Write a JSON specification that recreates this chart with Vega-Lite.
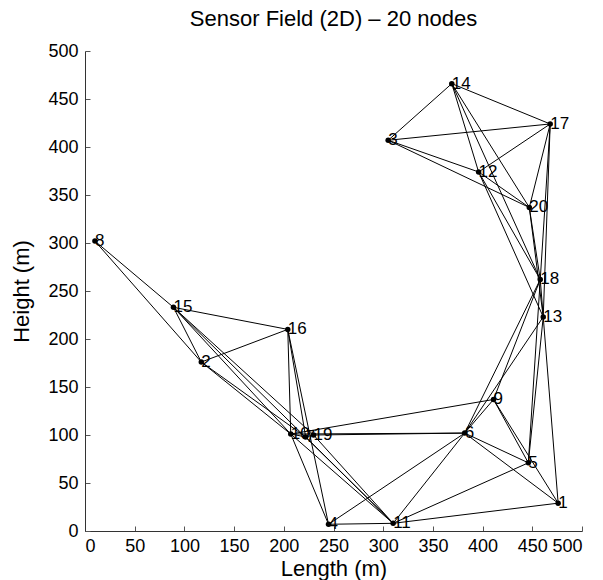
{
  "$schema": "https://vega.github.io/schema/vega-lite/v6.json",
  "width": 497,
  "height": 480,
  "autosize": {"type": "none"},
  "padding": {"left": 85, "top": 51, "right": 21, "bottom": 49},
  "background": "white",
  "config": {
    "view": {"stroke": null},
    "font": "Liberation Sans",
    "axis": {
      "grid": false,
      "domainColor": "#333",
      "tickColor": "#555",
      "tickSize": -5,
      "labelFont": "Liberation Sans",
      "labelFontSize": 18,
      "labelColor": "black",
      "titleFont": "Liberation Sans",
      "titleFontSize": 22,
      "titleFontWeight": "normal",
      "titleColor": "black"
    }
  },
  "title": {
    "text": "Sensor Field (2D) – 20 nodes",
    "fontSize": 22,
    "fontWeight": "normal",
    "font": "Liberation Sans",
    "offset": 11,
    "anchor": "middle"
  },
  "datasets": {
    "nodes": [
      {"id": "1", "x": 476, "y": 29},
      {"id": "2", "x": 117, "y": 176},
      {"id": "3", "x": 305, "y": 407},
      {"id": "4", "x": 245, "y": 7},
      {"id": "5", "x": 446, "y": 71},
      {"id": "6", "x": 382, "y": 102},
      {"id": "7", "x": 222, "y": 98},
      {"id": "8", "x": 10, "y": 302},
      {"id": "9", "x": 411, "y": 137},
      {"id": "10", "x": 207, "y": 101},
      {"id": "11", "x": 310, "y": 8},
      {"id": "12", "x": 396, "y": 374},
      {"id": "13", "x": 461, "y": 223},
      {"id": "14", "x": 369, "y": 466},
      {"id": "15", "x": 89, "y": 233},
      {"id": "16", "x": 204, "y": 210},
      {"id": "17", "x": 468, "y": 424},
      {"id": "18", "x": 458, "y": 262},
      {"id": "19", "x": 230, "y": 100},
      {"id": "20", "x": 447, "y": 337}
    ],
    "edges": [
      {"a": "8", "b": "15", "x1": 10, "y1": 302, "x2": 89, "y2": 233},
      {"a": "8", "b": "2", "x1": 10, "y1": 302, "x2": 117, "y2": 176},
      {"a": "15", "b": "16", "x1": 89, "y1": 233, "x2": 204, "y2": 210},
      {"a": "15", "b": "2", "x1": 89, "y1": 233, "x2": 117, "y2": 176},
      {"a": "15", "b": "10", "x1": 89, "y1": 233, "x2": 207, "y2": 101},
      {"a": "15", "b": "19", "x1": 89, "y1": 233, "x2": 230, "y2": 100},
      {"a": "15", "b": "11", "x1": 89, "y1": 233, "x2": 310, "y2": 8},
      {"a": "2", "b": "16", "x1": 117, "y1": 176, "x2": 204, "y2": 210},
      {"a": "2", "b": "10", "x1": 117, "y1": 176, "x2": 207, "y2": 101},
      {"a": "2", "b": "7", "x1": 117, "y1": 176, "x2": 222, "y2": 98},
      {"a": "16", "b": "10", "x1": 204, "y1": 210, "x2": 207, "y2": 101},
      {"a": "16", "b": "7", "x1": 204, "y1": 210, "x2": 222, "y2": 98},
      {"a": "16", "b": "4", "x1": 204, "y1": 210, "x2": 245, "y2": 7},
      {"a": "10", "b": "7", "x1": 207, "y1": 101, "x2": 222, "y2": 98},
      {"a": "7", "b": "19", "x1": 222, "y1": 98, "x2": 230, "y2": 100},
      {"a": "10", "b": "6", "x1": 207, "y1": 101, "x2": 382, "y2": 102},
      {"a": "19", "b": "6", "x1": 230, "y1": 100, "x2": 382, "y2": 102},
      {"a": "10", "b": "9", "x1": 207, "y1": 101, "x2": 411, "y2": 137},
      {"a": "10", "b": "4", "x1": 207, "y1": 101, "x2": 245, "y2": 7},
      {"a": "10", "b": "11", "x1": 207, "y1": 101, "x2": 310, "y2": 8},
      {"a": "7", "b": "11", "x1": 222, "y1": 98, "x2": 310, "y2": 8},
      {"a": "19", "b": "11", "x1": 230, "y1": 100, "x2": 310, "y2": 8},
      {"a": "4", "b": "11", "x1": 245, "y1": 7, "x2": 310, "y2": 8},
      {"a": "4", "b": "6", "x1": 245, "y1": 7, "x2": 382, "y2": 102},
      {"a": "11", "b": "1", "x1": 310, "y1": 8, "x2": 476, "y2": 29},
      {"a": "11", "b": "5", "x1": 310, "y1": 8, "x2": 446, "y2": 71},
      {"a": "11", "b": "6", "x1": 310, "y1": 8, "x2": 382, "y2": 102},
      {"a": "6", "b": "9", "x1": 382, "y1": 102, "x2": 411, "y2": 137},
      {"a": "6", "b": "5", "x1": 382, "y1": 102, "x2": 446, "y2": 71},
      {"a": "6", "b": "1", "x1": 382, "y1": 102, "x2": 476, "y2": 29},
      {"a": "6", "b": "18", "x1": 382, "y1": 102, "x2": 458, "y2": 262},
      {"a": "6", "b": "13", "x1": 382, "y1": 102, "x2": 461, "y2": 223},
      {"a": "9", "b": "18", "x1": 411, "y1": 137, "x2": 458, "y2": 262},
      {"a": "9", "b": "5", "x1": 411, "y1": 137, "x2": 446, "y2": 71},
      {"a": "9", "b": "1", "x1": 411, "y1": 137, "x2": 476, "y2": 29},
      {"a": "18", "b": "5", "x1": 458, "y1": 262, "x2": 446, "y2": 71},
      {"a": "13", "b": "5", "x1": 461, "y1": 223, "x2": 446, "y2": 71},
      {"a": "13", "b": "1", "x1": 461, "y1": 223, "x2": 476, "y2": 29},
      {"a": "18", "b": "13", "x1": 458, "y1": 262, "x2": 461, "y2": 223},
      {"a": "20", "b": "18", "x1": 447, "y1": 337, "x2": 458, "y2": 262},
      {"a": "20", "b": "13", "x1": 447, "y1": 337, "x2": 461, "y2": 223},
      {"a": "17", "b": "18", "x1": 468, "y1": 424, "x2": 458, "y2": 262},
      {"a": "17", "b": "13", "x1": 468, "y1": 424, "x2": 461, "y2": 223},
      {"a": "17", "b": "20", "x1": 468, "y1": 424, "x2": 447, "y2": 337},
      {"a": "12", "b": "18", "x1": 396, "y1": 374, "x2": 458, "y2": 262},
      {"a": "12", "b": "13", "x1": 396, "y1": 374, "x2": 461, "y2": 223},
      {"a": "12", "b": "20", "x1": 396, "y1": 374, "x2": 447, "y2": 337},
      {"a": "12", "b": "17", "x1": 396, "y1": 374, "x2": 468, "y2": 424},
      {"a": "3", "b": "12", "x1": 305, "y1": 407, "x2": 396, "y2": 374},
      {"a": "3", "b": "20", "x1": 305, "y1": 407, "x2": 447, "y2": 337},
      {"a": "3", "b": "14", "x1": 305, "y1": 407, "x2": 369, "y2": 466},
      {"a": "3", "b": "17", "x1": 305, "y1": 407, "x2": 468, "y2": 424},
      {"a": "14", "b": "17", "x1": 369, "y1": 466, "x2": 468, "y2": 424},
      {"a": "14", "b": "12", "x1": 369, "y1": 466, "x2": 396, "y2": 374},
      {"a": "14", "b": "20", "x1": 369, "y1": 466, "x2": 447, "y2": 337},
      {"a": "14", "b": "18", "x1": 369, "y1": 466, "x2": 458, "y2": 262}
    ]
  },
  "layer": [
    {
      "data": {"name": "edges"},
      "mark": {"type": "rule", "color": "black", "strokeWidth": 1},
      "encoding": {
        "x": {
          "field": "x1", "type": "quantitative",
          "scale": {"domain": [0, 500], "nice": false, "zero": false},
          "axis": {"title": "Length (m)", "values": [0, 50, 100, 150, 200, 250, 300, 350, 400, 450, 500], "labelPadding": 11, "titlePadding": 3}
        },
        "y": {
          "field": "y1", "type": "quantitative",
          "scale": {"domain": [0, 500], "nice": false, "zero": false},
          "axis": {"title": "Height (m)", "values": [0, 50, 100, 150, 200, 250, 300, 350, 400, 450, 500], "labelPadding": 12, "titlePadding": 14}
        },
        "x2": {"field": "x2"},
        "y2": {"field": "y2"}
      }
    },
    {
      "data": {"name": "nodes"},
      "mark": {"type": "point", "filled": true, "color": "black", "size": 30, "opacity": 1},
      "encoding": {
        "x": {"field": "x", "type": "quantitative"},
        "y": {"field": "y", "type": "quantitative"}
      }
    },
    {
      "data": {"name": "nodes"},
      "mark": {"type": "text", "align": "left", "baseline": "middle", "dx": 0, "fontSize": 17, "font": "Liberation Sans", "color": "black"},
      "encoding": {
        "x": {"field": "x", "type": "quantitative"},
        "y": {"field": "y", "type": "quantitative"},
        "text": {"field": "id"}
      }
    }
  ]
}
